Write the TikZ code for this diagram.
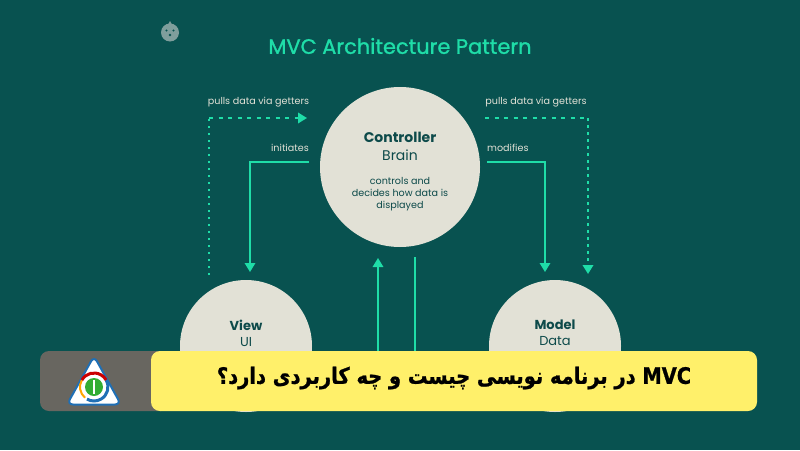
\documentclass[tikz,border=0pt]{standalone}
\usepackage{fontspec}
\setmainfont{Poppins}
\newfontfamily\titlefont[FakeBold=1.2]{Poppins}
\newfontfamily\persfont[Script=Arabic,BoldFont={DejaVu Sans Bold},BoldFeatures={FakeBold=1,FakeStretch=0.86}]{DejaVu Sans}
\TeXXeTstate=1
\usetikzlibrary{arrows.meta}
\definecolor{bgteal}{HTML}{085250}
\definecolor{mint}{HTML}{1FDDA8}
\definecolor{cream}{HTML}{E2E1D6}
\definecolor{inkteal}{HTML}{0D4A4A}
\definecolor{bandyellow}{HTML}{FFF06A}
\definecolor{bandgray}{HTML}{686660}
\definecolor{logoblue}{HTML}{1F6FB5}
\definecolor{mascotgray}{HTML}{7F9E9C}
\begin{document}
\begin{tikzpicture}[x=1pt,y=-1pt,
		bubble/.style={circle,fill=cream,inner sep=0pt,text=inkteal},
		headtext/.style={font=\fontsize{14}{16}\selectfont\bfseries,text=inkteal,inner sep=0pt},
		subtext/.style={font=\fontsize{14}{16}\selectfont,text=inkteal,inner sep=0pt},
		smalltext/.style={font=\fontsize{9.6}{12}\selectfont,text=inkteal,inner sep=0pt,align=center},
		linklabel/.style={font=\fontsize{9.6}{11}\selectfont,text=cream,inner sep=0pt},
		solidlink/.style={draw=mint,line width=1.6pt},
		dashlink/.style={draw=mint,line width=2pt,dash pattern=on 4pt off 5.5pt},
		dotlink/.style={draw=mint,line width=2pt,dash pattern=on 2.5pt off 4.5pt},
		tip/.style={-{Triangle[length=9pt,width=10.5pt]}},
		band/.style={rectangle,rounded corners=9pt,inner sep=0pt}
		]
		\useasboundingbox (0,0) rectangle (800,450);
		\fill[bgteal] (0,0) rectangle (800,450);
		\node (title) at (400,46) [font=\titlefont\fontsize{20.9}{23}\selectfont,text=mint,inner sep=0pt] {MVC Architecture Pattern};
		\node (mascot) at (170,32.5) [circle,fill=mascotgray,minimum size=18pt,inner sep=0pt] {};
		\fill[mascotgray] (168,24.5) -- (170,21) -- (172,24.5) -- cycle;
		\fill[bgteal] (166.5,30.5) circle (1.2) (173.5,30.5) circle (1.2) (170,35) circle (1.4);

		\node (ctrl) at (400,167) [bubble,minimum size=160pt] {};
		\node (view) at (246,346) [bubble,minimum size=132pt] {};
		\node (model) at (555,346) [bubble,minimum size=132pt] {};

		\node (ctrlhead) at (400,137) [headtext] {Controller};
		\node (ctrlsub) at (400,155) [subtext] {Brain};
		\node (ctrlnote) at (400,194) [smalltext] {controls and\\decides how data is\\displayed};
		\node (viewhead) at (246,325) [headtext,font=\fontsize{13}{15}\selectfont\bfseries] {View};
		\node (viewsub) at (246,342) [subtext,font=\fontsize{13}{15}\selectfont] {UI};
		\node (modelhead) at (555,325) [headtext,font=\fontsize{13}{15}\selectfont\bfseries] {Model};
		\node (modelsub) at (555,341) [subtext,font=\fontsize{13}{15}\selectfont] {Data};

		\node (pullsl) at (258.5,102) [linklabel] {pulls data via getters};
		\node (pullsr) at (536,102) [linklabel] {pulls data via getters};
		\node (init) [linklabel,anchor=east] at (309,148) {initiates};
		\node (modif) [linklabel,anchor=west] at (487,148) {modifies};

		\coordinate (a1) at (209,275);
		\coordinate (a2) at (209,118);
		\coordinate (a3) at (307,118);
		\draw[dotlink] (a1) -- (a2);
		\draw[dashlink,tip] (a2) -- (a3);

		\coordinate (b1) at (485,118);
		\coordinate (b2) at (588,118);
		\coordinate (b3) at (588,274);
		\draw[dashlink] (b1) -- (b2);
		\draw[dotlink,tip] (b2) -- (b3);

		\coordinate (c1) at (309,162);
		\coordinate (c2) at (250,162);
		\coordinate (c3) at (250,272);
		\draw[solidlink,tip] (c1) -- (c2) -- (c3);

		\coordinate (d1) at (487,162);
		\coordinate (d2) at (545,162);
		\coordinate (d3) at (545,272);
		\draw[solidlink,tip] (d1) -- (d2) -- (d3);

		\coordinate (e1) at (378,352);
		\coordinate (e2) at (378,258);
		\draw[solidlink,tip] (e1) -- (e2);
		\coordinate (f1) at (415,257);
		\coordinate (f2) at (415,352);
		\draw[solidlink] (f1) -- (f2);

		\node (grayband) at (105,381) [band,fill=bandgray,minimum width=130pt,minimum height=60pt] {};
		\node (yellowband) at (454,381) [band,fill=bandyellow,minimum width=606pt,minimum height=60pt] {};
		\node (headline) at (454,378) [inner sep=0pt,text=black,font=\persfont\fontsize{22.6}{26}\selectfont\bfseries] {\beginR\beginL MVC\endL{} در برنامه نویسی چیست و چه کاربردی دارد؟\endR};

		\coordinate (t1) at (94,356);
		\coordinate (t2) at (67,404.5);
		\coordinate (t3) at (121,404.5);
		\draw[logoblue,fill=white,line width=2pt,line join=round,rounded corners=6pt] (t1) -- (t3) -- (t2) -- cycle;
		\node (logo) at (94,387) [circle,fill=green!60!black!80!white,minimum size=18pt,inner sep=0pt] {};
		\fill[white] (92.8,380) rectangle (95.2,394);
		\draw[logoblue,line width=3pt] (106.1,380) arc[start angle=-30,end angle=120,radius=14];
		\draw[orange!70!yellow,line width=2pt] (81.9,380) arc[start angle=-150,end angle=-230,radius=14];
		\draw[red!80!black,line width=3pt] (81.9,380) arc[start angle=-150,end angle=-30,radius=14];
		\end{tikzpicture}
\end{document}
